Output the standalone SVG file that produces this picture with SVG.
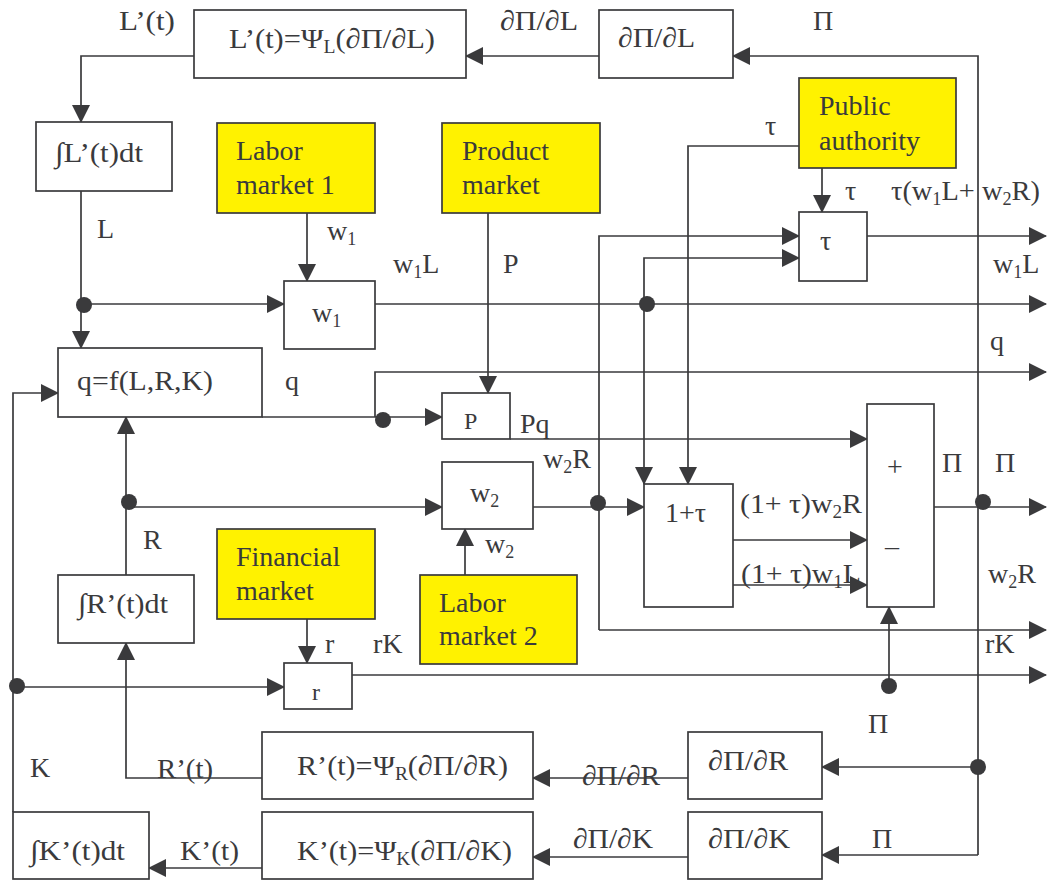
<svg xmlns="http://www.w3.org/2000/svg" width="1050" height="881" viewBox="0 0 1050 881">
<style>
.box{fill:#fff;stroke:#3a3a3c;stroke-width:1.7}
.y{fill:#fff200;stroke:#3a3a3c;stroke-width:1.7}
.c{fill:none;stroke:#3a3a3c;stroke-width:1.7}
.a{marker-end:url(#ah)}
.dot{fill:#3a3a3c}
text{font-family:"Liberation Serif","Times New Roman",serif;font-size:28px;fill:#3a3a3c}
.s{font-size:24px}
.yt{font-size:28px}
</style>
<defs>
<marker id="ah" markerUnits="userSpaceOnUse" markerWidth="18" markerHeight="18" refX="17" refY="9" orient="auto">
<path d="M0,0 L18,9 L0,18 z" fill="#3a3a3c"/>
</marker>
</defs>
<rect width="1050" height="881" fill="#fff"/>

<g id="connectors">
<path class="c a" d="M978,855 V56 H733"/>
<path class="c a" d="M978,855 H822"/>
<path class="c a" d="M978,767 H822"/>
<path class="c a" d="M599,56 H466"/>
<path class="c a" d="M194,56 H81 V122"/>
<path class="c a" d="M81,191 V348"/>
<path class="c a" d="M84,304 H284"/>
<path class="c a" d="M307,213 V281"/>
<path class="c a" d="M375,304 H1046"/>
<path class="c a" d="M644,304 V258 H799"/>
<path class="c a" d="M644,304 V484"/>
<path class="c a" d="M799,146 H688 V484"/>
<path class="c a" d="M822,168 V212"/>
<path class="c a" d="M867,236 H1046"/>
<path class="c a" d="M599,630 V236 H799"/>
<path class="c a" d="M599,630 H1046"/>
<path class="c a" d="M533,507 H644"/>
<path class="c a" d="M262,417 H442"/>
<path class="c a" d="M375,417 V372 H1046"/>
<path class="c a" d="M488,213 V393"/>
<path class="c a" d="M510,439 H867"/>
<path class="c a" d="M126,575 V417"/>
<path class="c a" d="M128,507 H442"/>
<path class="c a" d="M465,575 V529"/>
<path class="c a" d="M307,619 V663"/>
<path class="c a" d="M13,812 V393 H58"/>
<path class="c a" d="M16,687 H284"/>
<path class="c a" d="M352,675 H1046"/>
<path class="c a" d="M889,683 V607"/>
<path class="c a" d="M733,540 H867"/>
<path class="c a" d="M733,585 H867"/>
<path class="c a" d="M934,507 H1046"/>
<path class="c a" d="M688,778 H533"/>
<path class="c a" d="M262,778 H126 V643"/>
<path class="c a" d="M688,857 H533"/>
<path class="c a" d="M262,868 H149"/>
<circle class="dot" cx="84" cy="305" r="8"/>
<circle class="dot" cx="647" cy="304" r="8"/>
<circle class="dot" cx="598" cy="503" r="8"/>
<circle class="dot" cx="383" cy="420" r="8"/>
<circle class="dot" cx="129" cy="502" r="8"/>
<circle class="dot" cx="17" cy="686" r="8"/>
<circle class="dot" cx="889" cy="686" r="8"/>
<circle class="dot" cx="983" cy="502" r="8"/>
<circle class="dot" cx="978" cy="767" r="8"/>
</g>

<g id="labels">
<text x="119" y="30" textLength="56" lengthAdjust="spacingAndGlyphs">L’(t)</text>
<text x="500" y="30" textLength="78" lengthAdjust="spacingAndGlyphs">∂Π/∂L</text>
<text x="813" y="30">Π</text>
<text x="765" y="135">τ</text>
<text x="845" y="200">τ</text>
<text x="891" y="200" textLength="149" lengthAdjust="spacingAndGlyphs">τ(w<tspan font-size="18" dy="5">1</tspan><tspan dy="-5">L+ w</tspan><tspan font-size="18" dy="5">2</tspan><tspan dy="-5">R)</tspan></text>
<text x="97" y="238">L</text>
<text x="327" y="240">w<tspan font-size="18" dy="5">1</tspan></text>
<text x="393" y="273">w<tspan font-size="18" dy="5">1</tspan><tspan dy="-5">L</tspan></text>
<text x="503" y="273">P</text>
<text x="993" y="273">w<tspan font-size="18" dy="5">1</tspan><tspan dy="-5">L</tspan></text>
<text x="990" y="350">q</text>
<text x="285" y="390">q</text>
<text x="520" y="433">Pq</text>
<text x="543" y="468">w<tspan font-size="18" dy="5">2</tspan><tspan dy="-5">R</tspan></text>
<text x="942" y="472">Π</text>
<text x="995" y="472">Π</text>
<text x="740" y="513" textLength="122" lengthAdjust="spacingAndGlyphs">(1+ τ)w<tspan font-size="18" dy="5">2</tspan><tspan dy="-5">R</tspan></text>
<text x="143" y="549">R</text>
<text x="485" y="553">w<tspan font-size="18" dy="5">2</tspan></text>
<text x="741" y="583" textLength="120" lengthAdjust="spacingAndGlyphs">(1+ τ)w<tspan font-size="18" dy="5">1</tspan><tspan dy="-5">L</tspan></text>
<text x="988" y="583">w<tspan font-size="18" dy="5">2</tspan><tspan dy="-5">R</tspan></text>
<text x="325" y="653">r</text>
<text x="373" y="653">rK</text>
<text x="985" y="653">rK</text>
<text x="868" y="733">Π</text>
<text x="30" y="777">K</text>
<text x="157" y="778" textLength="56" lengthAdjust="spacingAndGlyphs">R’(t)</text>
<text x="582" y="785" textLength="78" lengthAdjust="spacingAndGlyphs">∂Π/∂R</text>
<text x="573" y="848" textLength="80" lengthAdjust="spacingAndGlyphs">∂Π/∂K</text>
<text x="872" y="848">Π</text>
<text x="180" y="860" textLength="59" lengthAdjust="spacingAndGlyphs">K’(t)</text>
</g>

<g id="n-Lprime">
<rect class="box" x="194" y="10" width="272" height="68"/>
<text x="229" y="48" textLength="206" lengthAdjust="spacingAndGlyphs">L’(t)=Ψ<tspan font-size="18" dy="5">L</tspan><tspan dy="-5">(∂Π/∂L)</tspan></text>
</g>
<g id="n-dPdL">
<rect class="box" x="599" y="10" width="134" height="68"/>
<text x="618" y="47" textLength="77" lengthAdjust="spacingAndGlyphs">∂Π/∂L</text>
</g>
<g id="n-intL">
<rect class="box" x="36" y="122" width="136" height="69"/>
<text x="55" y="162" textLength="88" lengthAdjust="spacingAndGlyphs">∫L’(t)dt</text>
</g>
<g id="n-labor1">
<rect class="y" x="217" y="123" width="158" height="90"/>
<text class="yt" x="236" y="160">Labor</text>
<text class="yt" x="236" y="194">market 1</text>
</g>
<g id="n-product">
<rect class="y" x="442" y="123" width="158" height="90"/>
<text class="yt" x="462" y="160">Product</text>
<text class="yt" x="462" y="194">market</text>
</g>
<g id="n-public">
<rect class="y" x="799" y="78" width="157" height="90"/>
<text class="yt" x="819" y="115">Public</text>
<text class="yt" x="819" y="150">authority</text>
</g>
<g id="n-tau">
<rect class="box" x="799" y="212" width="68" height="69"/>
<text x="820" y="250">τ</text>
</g>
<g id="n-w1">
<rect class="box" x="284" y="281" width="91" height="68"/>
<text x="312" y="322">w<tspan font-size="18" dy="5">1</tspan></text>
</g>
<g id="n-q">
<rect class="box" x="58" y="348" width="204" height="69"/>
<text x="77" y="390" textLength="136" lengthAdjust="spacingAndGlyphs">q=f(L,R,K)</text>
</g>
<g id="n-P">
<rect class="box" x="442" y="393" width="68" height="46"/>
<text class="s" x="464" y="429">P</text>
</g>
<g id="n-pm">
<rect class="box" x="867" y="404" width="67" height="203"/>
<text x="887" y="476">+</text>
<text x="885" y="555">–</text>
</g>
<g id="n-w2">
<rect class="box" x="442" y="462" width="91" height="67"/>
<text x="470" y="502">w<tspan font-size="18" dy="5">2</tspan></text>
</g>
<g id="n-1tau">
<rect class="box" x="644" y="484" width="89" height="123"/>
<text x="665" y="522">1+τ</text>
</g>
<g id="n-intR">
<rect class="box" x="58" y="575" width="136" height="68"/>
<text x="78" y="613" textLength="90" lengthAdjust="spacingAndGlyphs">∫R’(t)dt</text>
</g>
<g id="n-financial">
<rect class="y" x="217" y="529" width="158" height="90"/>
<text class="yt" x="236" y="566">Financial</text>
<text class="yt" x="236" y="600">market</text>
</g>
<g id="n-labor2">
<rect class="y" x="420" y="575" width="157" height="89"/>
<text class="yt" x="439" y="612">Labor</text>
<text class="yt" x="439" y="645">market 2</text>
</g>
<g id="n-r">
<rect class="box" x="284" y="663" width="68" height="46"/>
<text class="s" x="312" y="700">r</text>
</g>
<g id="n-Rprime">
<rect class="box" x="262" y="732" width="271" height="67"/>
<text x="297" y="775" textLength="211" lengthAdjust="spacingAndGlyphs">R’(t)=Ψ<tspan font-size="18" dy="5">R</tspan><tspan dy="-5">(∂Π/∂R)</tspan></text>
</g>
<g id="n-dPdR">
<rect class="box" x="688" y="732" width="134" height="67"/>
<text x="708" y="770" textLength="80" lengthAdjust="spacingAndGlyphs">∂Π/∂R</text>
</g>
<g id="n-intK">
<rect class="box" x="13" y="812" width="136" height="67"/>
<text x="30" y="860" textLength="95" lengthAdjust="spacingAndGlyphs">∫K’(t)dt</text>
</g>
<g id="n-Kprime">
<rect class="box" x="262" y="812" width="271" height="67"/>
<text x="297" y="860" textLength="215" lengthAdjust="spacingAndGlyphs">K’(t)=Ψ<tspan font-size="18" dy="5">K</tspan><tspan dy="-5">(∂Π/∂K)</tspan></text>
</g>
<g id="n-dPdK">
<rect class="box" x="688" y="812" width="134" height="67"/>
<text x="708" y="848" textLength="82" lengthAdjust="spacingAndGlyphs">∂Π/∂K</text>
</g>
</svg>
